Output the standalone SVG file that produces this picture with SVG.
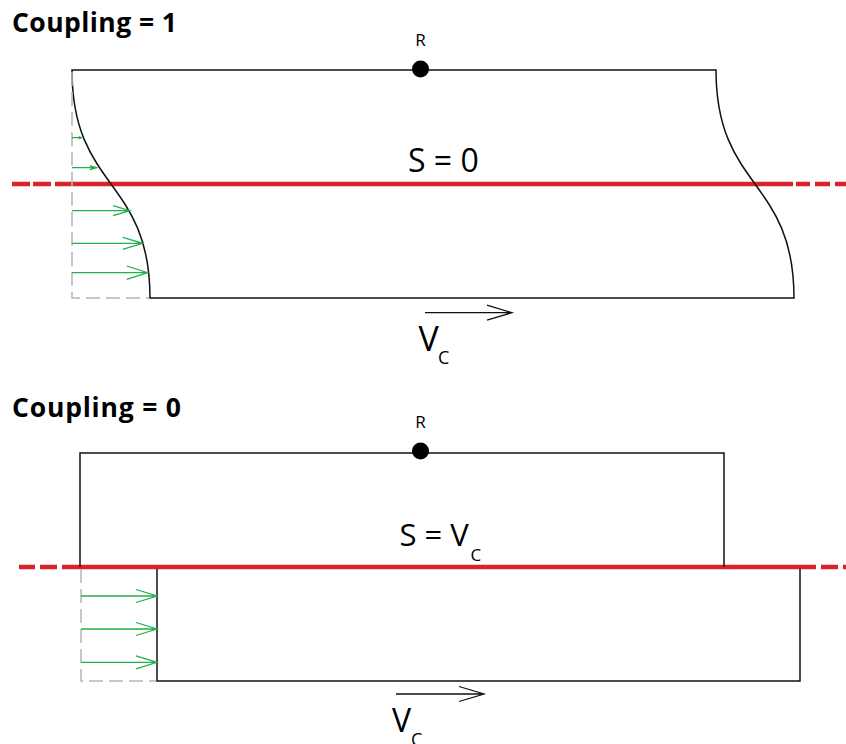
<svg xmlns="http://www.w3.org/2000/svg" width="846" height="744" viewBox="0 0 846 744">
<style>
.title{font-family:"Open Sans","Liberation Sans",sans-serif;font-weight:bold;font-size:26.5px;fill:#000}
.lbl{font-family:"Open Sans","Liberation Sans",sans-serif;fill:#000}
.red{stroke:#d8232a;stroke-width:4.5;fill:none}
.blk{stroke:#111;stroke-width:1.5;fill:none}
.gray{stroke:#b5b5b5;stroke-width:1.5;fill:none;stroke-dasharray:14 6}
.grn{stroke:#22b04b;stroke-width:1.3;fill:none}
.vel{stroke:#111;stroke-width:1.3;fill:none}
</style>
<rect width="846" height="744" fill="#fff"/>

<g id="titles">
<text class="title" x="12" y="32" textLength="165" lengthAdjust="spacing">Coupling = 1</text>
<text class="title" x="12" y="417" textLength="169" lengthAdjust="spacing">Coupling = 0</text>
</g>

<!-- Top diagram -->
<g id="slip-plane-top">
<path class="red" d="M12,184 H30 M33,184 H51 M55,184 H793 M796,184 H810 M815,184 H830 M835,184 H846"/>
</g>
<g id="block-top">
<path class="blk" d="M72,70 H716 C716,190 794,178 794,298 H150 C150,178 72,190 72,70 Z"/>
<circle cx="420.5" cy="69" r="8.5" fill="#000"/>
<text class="lbl" x="420.5" y="46" font-size="17" text-anchor="middle">R</text>
<text class="lbl" x="408" y="172" font-size="32">S = 0</text>
</g>
<g id="profile-top">
<path class="gray" d="M72,72 V298 H149"/>
<g class="grn">
<path d="M72,137.7 H81.7 M78.7,136.7 L81.7,137.7 L78.7,138.7"/>
<path d="M72,167.7 H96.7 M89.7,165.7 L96.7,167.7 L89.7,169.7"/>
<path d="M72,210.7 H130 M113,205.7 L130,210.7 L113,215.7"/>
<path d="M72,243.3 H142.7 M122.7,237.3 L142.7,243.3 L122.7,249.3"/>
<path d="M72,272.7 H147.7 M126.7,266 L147.7,272.7 L126.7,279.4"/>
</g>
</g>
<g id="velocity-top">
<path class="vel" d="M425,312.7 H512 M487,305.2 L512,312.7 L487,320.2"/>
<text class="lbl" x="418.5" y="351" font-size="34">V</text>
<text class="lbl" x="438" y="364" font-size="18">C</text>
</g>

<!-- Bottom diagram -->
<g id="slip-plane-bottom">
<path class="red" d="M19,567 H35 M40,567 H57 M62,567 H816 M821,567 H838 M843,567 H846"/>
</g>
<g id="block-upper">
<path class="blk" d="M80,567 V453 H724 V567"/>
<circle cx="420.5" cy="451" r="8.5" fill="#000"/>
<text class="lbl" x="420.5" y="428" font-size="17" text-anchor="middle">R</text>
<text class="lbl" x="399.5" y="545.7" font-size="31">S = V</text>
<text class="lbl" x="470.5" y="561" font-size="17">C</text>
</g>
<g id="block-lower">
<path class="blk" d="M157,569 V681 H800 V569"/>
</g>
<g id="profile-bottom">
<path class="gray" d="M81,569 V681 H156"/>
<g class="grn">
<path d="M81,596 H157 M136,589.5 L157,596 L136,602.5"/>
<path d="M81,629 H157 M136,622.5 L157,629 L136,635.5"/>
<path d="M81,662.3 H157 M136,655.8 L157,662.3 L136,668.8"/>
</g>
</g>
<g id="velocity-bottom">
<path class="vel" d="M396,694 H484 M459,686.5 L484,694 L459,701.5"/>
<text class="lbl" x="392" y="731.5" font-size="32">V</text>
<text class="lbl" x="411" y="746" font-size="18">C</text>
</g>
</svg>
